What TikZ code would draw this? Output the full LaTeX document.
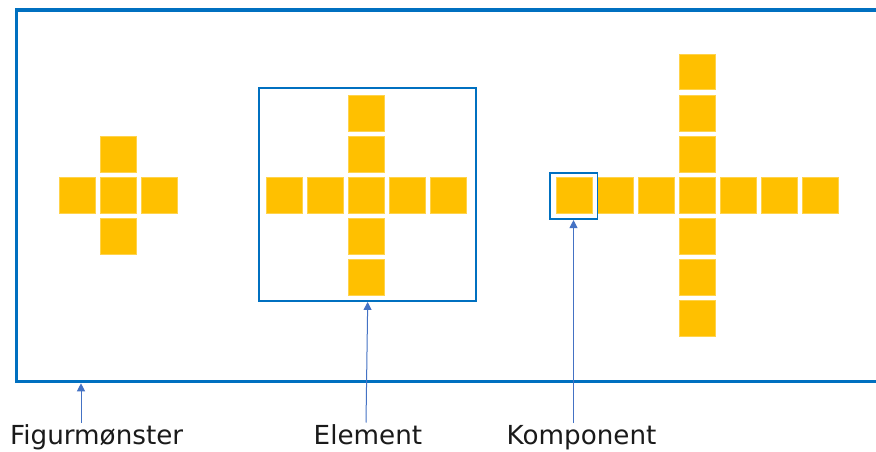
\documentclass[tikz,border=0pt]{standalone}
\usepackage{fontspec}
\setmainfont{DejaVu Sans}
\usetikzlibrary{arrows.meta}
\definecolor{tile}{HTML}{FFC000}
\definecolor{frameblue}{HTML}{0070C0}
\definecolor{pointer}{HTML}{4472C4}
\definecolor{labeltext}{HTML}{1A1A1A}
\tikzset{
  tilebox/.style={fill=tile, draw=tile!70!white, line width=0.5pt},
  outerframe/.style={draw=frameblue, line width=3.3pt},
  markbox/.style={draw=frameblue, line width=1.8pt, inner sep=0pt, fill=none},
  pointerarrow/.style={draw=pointer, line width=1pt, -{Triangle[length=8pt,width=8pt]}},
  caption/.style={anchor=base west, inner sep=0pt, text=labeltext,
                  font=\fontsize{26.2}{30}\selectfont}
}
% one square tile of side 35.5 centred on the given point
\newcommand{\tileat}[2]{\path[tilebox] (#1-17.75,#2-17.75) rectangle (#1+17.75,#2+17.75);}
% a plus-shaped group of tiles: centre x, centre y, number of tiles per arm
\newcommand{\plusgroup}[3]{%
  \tileat{#1}{#2}
  \foreach \k in {1,...,#3}{%
    \tileat{#1+41*\k}{#2}
    \tileat{#1-41*\k}{#2}
    \tileat{#1}{#2+41*\k}
    \tileat{#1}{#2-41*\k}
  }}
\begin{document}
\begin{tikzpicture}[x=1pt,y=-1pt]
  \useasboundingbox (0,0) rectangle (876,452);
  \clip (0,0) rectangle (876,452);
  \fill[white] (0,0) rectangle (876,452);

  % outer frame, running off the right edge
  \node[outerframe, minimum width=900pt, minimum height=371.7pt, anchor=north west, inner sep=0pt]
    (pattern) at (15,8.3) {};

  % the three plus-shaped groups
  \plusgroup{118.3}{195}{1}
  \plusgroup{366}{195}{2}
  \plusgroup{697}{195}{3}

  % box round the middle group and round a single tile
  \node[markbox, minimum width=217pt, minimum height=213pt] (element) at (367.5,194.5) {};
  \node[markbox, minimum width=47.5pt, minimum height=46.5pt] (komponent) at (573.8,195.9) {};

  % captions
  \node[caption] (lblF) at (10,444) {Figurmønster};
  \node[caption] (lblE) at (313.5,444) {Element};
  \node[caption] (lblK) at (506.5,444) {Komponent};

  % pointer tails just above the captions
  \coordinate (tailF) at (81,422.5);
  \coordinate (tailE) at (366,422.5);
  \coordinate (tailK) at (573.5,422.5);
  \coordinate (headE) at (367.7,0);

  \draw[pointerarrow] (tailF) -- (tailF |- pattern.south);
  \draw[pointerarrow] (tailE) -- (headE |- element.south);
  \draw[pointerarrow] (tailK) -- (tailK |- komponent.south);
\end{tikzpicture}
\end{document}
